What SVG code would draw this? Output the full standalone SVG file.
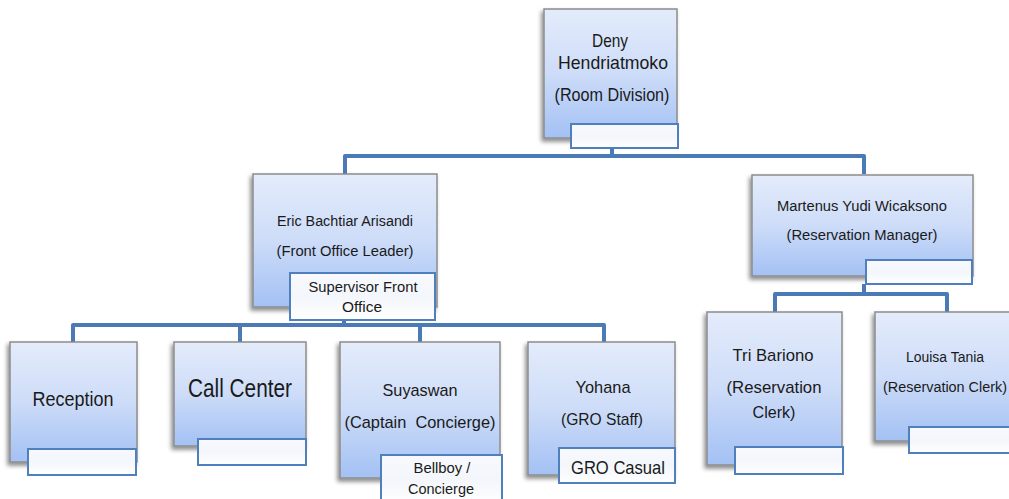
<svg xmlns="http://www.w3.org/2000/svg" width="1009" height="499" viewBox="0 0 1009 499">
<defs>
<linearGradient id="gBox" x1="0" y1="0" x2="0" y2="1">
<stop offset="0" stop-color="#e4ecfb"/>
<stop offset="0.5" stop-color="#cddcf8"/>
<stop offset="1" stop-color="#a3c1f4"/>
</linearGradient>
<linearGradient id="gLbl" x1="0" y1="0" x2="0" y2="1">
<stop offset="0" stop-color="#f7f9fd"/>
<stop offset="0.5" stop-color="#f3f6fb"/>
<stop offset="1" stop-color="#ffffff"/>
</linearGradient>
<filter id="sh" x="-20%" y="-20%" width="140%" height="140%">
<feDropShadow dx="-2" dy="3" stdDeviation="2" flood-color="#000" flood-opacity="0.45"/>
</filter>
</defs>
<style>
.box{fill:url(#gBox);stroke:#8c8c8c;stroke-width:1.5;filter:url(#sh)}
.lbl{fill:url(#gLbl);stroke:#4f7fbd;stroke-width:2}
.con{fill:none;stroke:#4a7bb7;stroke-width:4;stroke-linejoin:round}
text{font-family:"Liberation Sans","DejaVu Sans",sans-serif;fill:#1a1a1a;text-anchor:middle;white-space:pre}
</style>
<rect width="1009" height="499" fill="#ffffff"/>
<g id="connectors">
<path class="con" d="M612,148 V156"/>
<path class="con" d="M345,174 V156 H864 V174"/>
<path class="con" d="M344,320 V325"/>
<path class="con" d="M73,342 V325 H604 V342"/>
<path class="con" d="M240,325 V342"/>
<path class="con" d="M420,325 V342"/>
<path class="con" d="M864,284 V294"/>
<path class="con" d="M775,312 V294 H947 V312"/>
</g>
<g id="node-deny">
<rect class="box" x="544" y="9" width="133" height="129"/>
<rect class="lbl" x="571" y="124" width="107" height="24"/>
<text x="610" y="47" font-size="19" textLength="36" lengthAdjust="spacingAndGlyphs">Deny</text>
<text x="613" y="69" font-size="19" textLength="110" lengthAdjust="spacingAndGlyphs">Hendriatmoko</text>
<text x="612" y="101" font-size="19" textLength="115" lengthAdjust="spacingAndGlyphs">(Room Division)</text>
</g>
<g id="node-eric">
<rect class="box" x="253" y="174" width="184" height="133"/>
<rect class="lbl" x="290" y="273" width="145" height="47"/>
<text x="345" y="226" font-size="14" textLength="136" lengthAdjust="spacingAndGlyphs">Eric Bachtiar Arisandi</text>
<text x="345" y="256" font-size="14" textLength="137" lengthAdjust="spacingAndGlyphs">(Front Office Leader)</text>
<text x="363" y="292" font-size="14" textLength="109" lengthAdjust="spacingAndGlyphs">Supervisor Front</text>
<text x="362" y="312" font-size="14" textLength="40" lengthAdjust="spacingAndGlyphs">Office</text>
</g>
<g id="node-martenus">
<rect class="box" x="752" y="175" width="221" height="101"/>
<rect class="lbl" x="866" y="260" width="106" height="24"/>
<text x="862" y="211" font-size="14" textLength="170" lengthAdjust="spacingAndGlyphs">Martenus Yudi Wicaksono</text>
<text x="862" y="240" font-size="14" textLength="151" lengthAdjust="spacingAndGlyphs">(Reservation Manager)</text>
</g>
<g id="node-reception">
<rect class="box" x="10" y="342" width="127" height="120"/>
<rect class="lbl" x="28" y="449" width="108" height="26"/>
<text x="73" y="406" font-size="21" textLength="81" lengthAdjust="spacingAndGlyphs">Reception</text>
</g>
<g id="node-callcenter">
<rect class="box" x="174" y="342" width="132" height="104"/>
<rect class="lbl" x="198" y="439" width="108" height="26"/>
<text x="240" y="397" font-size="25" textLength="104" lengthAdjust="spacingAndGlyphs">Call Center</text>
</g>
<g id="node-suyaswan">
<rect class="box" x="340" y="342" width="160" height="136"/>
<rect class="lbl" x="381" y="455" width="121" height="50"/>
<text x="420" y="396" font-size="17" textLength="75" lengthAdjust="spacingAndGlyphs">Suyaswan</text>
<text x="420" y="428" font-size="17" textLength="151" lengthAdjust="spacingAndGlyphs" xml:space="preserve">(Captain  Concierge)</text>
<text x="442" y="473" font-size="14" textLength="57" lengthAdjust="spacingAndGlyphs">Bellboy /</text>
<text x="441" y="494" font-size="14" textLength="66" lengthAdjust="spacingAndGlyphs">Concierge</text>
</g>
<g id="node-yohana">
<rect class="box" x="528" y="342" width="147" height="133"/>
<rect class="lbl" x="559" y="448" width="116" height="35"/>
<text x="603" y="393" font-size="17" textLength="55" lengthAdjust="spacingAndGlyphs">Yohana</text>
<text x="602" y="425" font-size="17" textLength="82" lengthAdjust="spacingAndGlyphs">(GRO Staff)</text>
<text x="618" y="474" font-size="19" textLength="94" lengthAdjust="spacingAndGlyphs">GRO Casual</text>
</g>
<g id="node-tri">
<rect class="box" x="707" y="312" width="135" height="153"/>
<rect class="lbl" x="735" y="447" width="108" height="27"/>
<text x="773" y="361" font-size="17" textLength="81" lengthAdjust="spacingAndGlyphs">Tri Bariono</text>
<text x="774" y="393" font-size="17" textLength="95" lengthAdjust="spacingAndGlyphs">(Reservation</text>
<text x="774" y="418" font-size="17" textLength="43" lengthAdjust="spacingAndGlyphs">Clerk)</text>
</g>
<g id="node-louisa">
<rect class="box" x="875" y="312" width="140" height="129"/>
<rect class="lbl" x="909" y="427" width="106" height="26"/>
<text x="945" y="362" font-size="14" textLength="78" lengthAdjust="spacingAndGlyphs">Louisa Tania</text>
<text x="945" y="392" font-size="14" textLength="124" lengthAdjust="spacingAndGlyphs">(Reservation Clerk)</text>
</g>
</svg>
